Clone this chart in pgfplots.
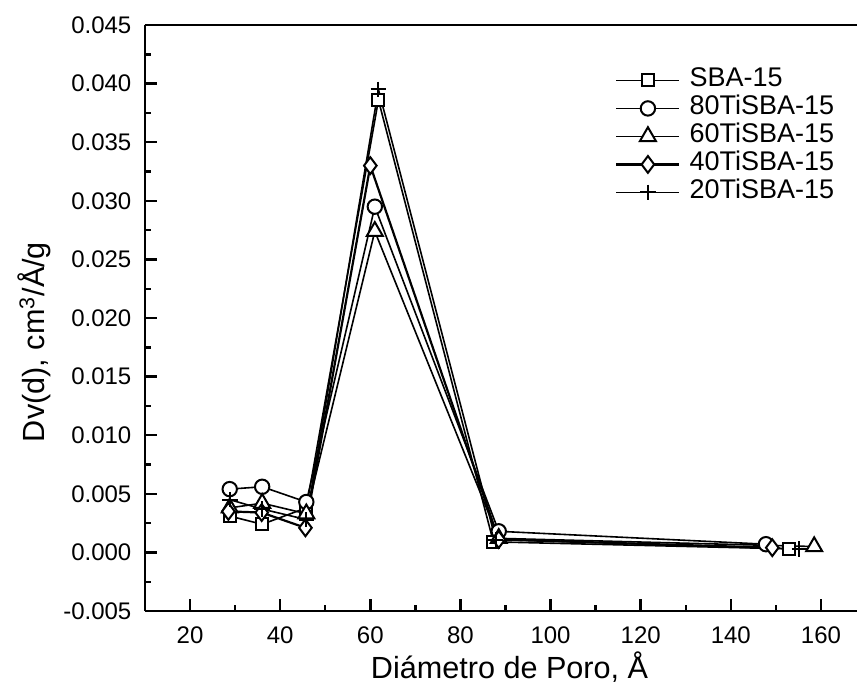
\documentclass[border=0pt]{standalone}
\usepackage{fontspec}
\setmainfont{Liberation Sans}
\usepackage{pgfplots}
\pgfplotsset{compat=1.18}
\begin{document}
\begin{tikzpicture}
\useasboundingbox (-72.5pt,-43.5pt) rectangle (356pt,305.5pt);
\begin{axis}[
  at={(0,0)}, anchor=south west,
  scale only axis,
  width=356pt, height=293pt,
  xmin=10, xmax=168,
  ymin=-0.005, ymax=0.045,
  axis x line=box, axis y line=left,
  axis line style={-, line width=1.3pt},
  xtick={20,40,...,160},
  ytick={-0.005,0,0.005,0.01,0.015,0.02,0.025,0.03,0.035,0.04,0.045},
  minor x tick num=1, minor y tick num=1,
  tick align=inside,
  xtick pos=bottom, ytick pos=left,
  major tick length=5.8pt, minor tick length=3pt,
  tick style={line width=1.2pt, black},
  scaled y ticks=false,
  yticklabel style={/pgf/number format/.cd, fixed, fixed zerofill, precision=3, assume math mode=true, /tikz/.cd, xshift=-3.3pt},
  xticklabel style={/pgf/number format/assume math mode=true, anchor=base, yshift=-16pt},
  tick label style={font=\fontsize{12}{14}\selectfont},
  label style={font=\fontsize{15.3}{17}\selectfont},
  xlabel={Diámetro de Poro, Å},
  xlabel style={at={(axis description cs:0.512,0)}, anchor=base, yshift=-33.5pt},
  ylabel={Dv(d), cm\textsuperscript{3}/Å/g},
  ylabel style={at={(axis description cs:-0.188,0.459)}, anchor=north, rotate=0},
  legend style={draw=none, fill=none, at={(axis description cs:0.660,0.930)}, anchor=north west,
    font=\fontsize{13.5}{14}\selectfont, row sep=0pt, inner sep=0pt,
    nodes={inner sep=0pt, text height=10pt, text depth=4pt},
    /tikz/every odd column/.style={column sep=4.5pt}},
  legend cell align=left,
  legend image code/.code={\draw[mark repeat=2,mark phase=2] plot coordinates {(0pt,0pt) (15.75pt,0pt) (31.5pt,0pt)};},
]
\addplot[black, line width=0.8pt, mark=square*, mark size=3pt, mark options={solid, fill=white, line width=1pt}] coordinates {(28.8,0.0031) (36,0.0024) (45.8,0.0038) (61.8,0.0386) (87.3,0.0009) (153,0.0003)};
\addlegendentry{SBA-15}
\addplot[black, line width=0.8pt, mark=*, mark size=3.6pt, mark options={solid, fill=white, line width=1pt}] coordinates {(28.8,0.0054) (36,0.0056) (45.8,0.0043) (61,0.0295) (88.5,0.0018) (147.8,0.0007)};
\addlegendentry{80TiSBA-15}
\addplot[black, line width=0.8pt, mark=triangle*, mark size=4.6pt, mark options={solid, fill=white, line width=1pt}] coordinates {(28.8,0.0038) (36,0.0042) (45.8,0.0033) (61,0.0274) (88.5,0.0012) (158.5,0.0005)};
\addlegendentry{60TiSBA-15}
\addplot[black, line width=1.1pt, mark=diamond*, mark size=4.2pt, mark options={solid, fill=white, line width=1pt}] coordinates {(28.5,0.0035) (35.9,0.0034) (45.6,0.0021) (60,0.0330) (88.5,0.0011) (149.2,0.0004)};
\addlegendentry{40TiSBA-15}
\addplot[black, line width=0.8pt, mark=+, mark size=3.9pt, mark options={solid, line width=1pt}] coordinates {(28.8,0.0045) (36,0.0037) (45.8,0.0028) (61.8,0.0395) (87.8,0.0011) (155.2,0.0003)};
\addlegendentry{20TiSBA-15}
\end{axis}
\end{tikzpicture}
\end{document}
